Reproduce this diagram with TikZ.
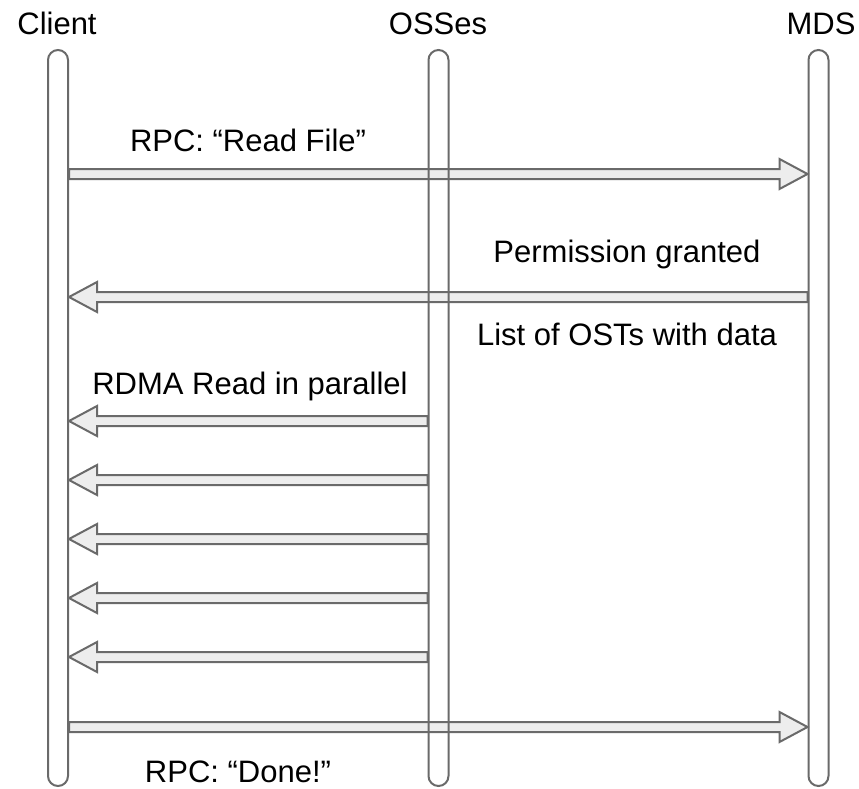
\documentclass[tikz,border=0pt]{standalone}
\usepackage{fontspec}
\setmainfont{Liberation Sans}
\usepackage{tikz}
\usetikzlibrary{positioning,calc,backgrounds}

\definecolor{linegray}{HTML}{6A6A6A}
\definecolor{fillgray}{HTML}{EDEDED}

\tikzset{
    lifeline/.style={draw=linegray, line width=1pt, rounded corners=5pt,
        minimum width=10pt, minimum height=368pt, inner sep=0pt},
    msg/.style={font=\fontsize{15.5}{18}\selectfont, inner sep=0pt, anchor=base},
    fatarrow/.style={draw=linegray, fill=fillgray, line width=1pt, line join=miter,
        to path={let \p1=(\tikztostart), \p2=(\tikztotarget),
            \n1={ifthenelse(\x2>\x1,1,-1)} in
            (\x1,\y1+2.5pt) -- (\x2-\n1*14pt,\y1+2.5pt) -- (\x2-\n1*14pt,\y1+7.5pt)
            -- (\x2,\y1) -- (\x2-\n1*14pt,\y1-7.5pt) -- (\x2-\n1*14pt,\y1-2.5pt)
            -- (\x1,\y1-2.5pt) -- cycle}}
}

\begin{document}
\begin{tikzpicture}[x=0.5pt,y=-0.5pt]
    \useasboundingbox (0,0) rectangle (859,789);
    %%%%% THE LIFELINES
    \node[lifeline] (client) at (58,418) {};
    \node[lifeline] (osses) at (438.5,418) {};
    \node[lifeline] (mds) at (818.5,418) {};
    \node[msg] (clientname) at (57,34) {Client};
    \node[msg] (ossesname) at (438,34) {OSSes};
    \node[msg] (mdsname) at (821,34) {MDS};
    %%%%% THE MESSAGES
    \begin{scope}[on background layer]
      \draw[fatarrow] (client.east |- 0,174) to (mds.west |- 0,174);
      \draw[fatarrow] (mds.west |- 0,297) to (client.east |- 0,297);
      \foreach \ypos in {421,480,539,598,657}
        \draw[fatarrow] (osses.west |- 0,\ypos) to (client.east |- 0,\ypos);
      \draw[fatarrow] (client.east |- 0,727) to (mds.west |- 0,727);
    \end{scope}
    %%%%% THE LABELS
    \node[msg] (readfile) at (248,151) {RPC: “Read File”};
    \node[msg] (granted) at (627,262) {Permission granted};
    \node[msg] (ostlist) at (627,345) {List of OSTs with data};
    \node[msg] (rdma) at (250,394) {RDMA Read in parallel};
    \node[msg] (done) at (238,782) {RPC: “Done!”};
\end{tikzpicture}
\end{document}
